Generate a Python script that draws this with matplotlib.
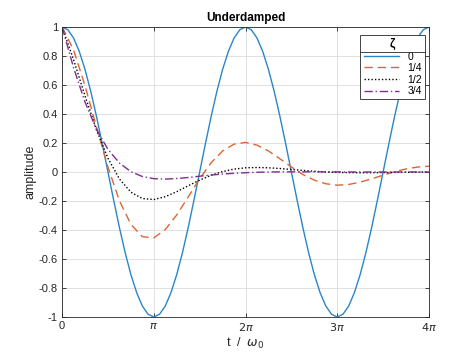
import numpy as np
import matplotlib
matplotlib.use("Agg")
import matplotlib.pyplot as plt
from matplotlib.lines import Line2D

plt.rcParams['font.family'] = ['Liberation Sans', 'DejaVu Sans']
plt.rcParams['mathtext.fontset'] = 'dejavusans'

# sample positions in units of pi
t_fine = np.arange(65) / 16.0      # for the undamped curve
t_coarse = np.arange(33) / 8.0     # for the damped curves

zeta_labels = ["0", "1/4", "1/2", "3/4"]

amp_0 = [1.0, 0.981, 0.924, 0.831, 0.707, 0.556, 0.383, 0.195, 0.0,
         -0.195, -0.383, -0.556, -0.707, -0.831, -0.924, -0.981, -1.0,
         -0.981, -0.924, -0.831, -0.707, -0.556, -0.383, -0.195, 0.0,
         0.195, 0.383, 0.556, 0.707, 0.831, 0.924, 0.981, 1.0,
         0.981, 0.924, 0.831, 0.707, 0.556, 0.383, 0.195, 0.0,
         -0.195, -0.383, -0.556, -0.707, -0.831, -0.924, -0.981, -1.0,
         -0.981, -0.924, -0.831, -0.707, -0.556, -0.383, -0.195, 0.0,
         0.195, 0.383, 0.556, 0.707, 0.831, 0.924, 0.981, 1.0]

amp_14 = [1.0, 0.842, 0.595, 0.310, 0.034, -0.198, -0.361, -0.446, -0.454,
          -0.397, -0.296, -0.172, -0.046, 0.064, 0.145, 0.192, 0.204,
          0.185, 0.145, 0.091, 0.035, -0.017, -0.056, -0.081, -0.091,
          -0.086, -0.070, -0.047, -0.022, 0.002, 0.021, 0.034, 0.040]

amp_12 = [1.0, 0.775, 0.525, 0.290, 0.095, -0.048, -0.139, -0.183, -0.190,
          -0.170, -0.136, -0.095, -0.056, -0.022, 0.003, 0.020, 0.029,
          0.031, 0.029, 0.024, 0.017, 0.011, 0.005, 0.000, -0.003,
          -0.004, -0.005, -0.005, -0.004, -0.003, -0.002, -0.001, 0.000]

amp_34 = [1.0, 0.720, 0.482, 0.294, 0.156, 0.062, 0.002, -0.031, -0.046,
          -0.049, -0.045, -0.038, -0.029, -0.021, -0.014, -0.009, -0.005,
          -0.002, 0.000, 0.001, 0.001, 0.001, 0.001, 0.001, 0.001,
          0.000, 0.000, 0.000, 0.000, 0.000, 0.000, 0.000, 0.000]

x_tick_labels = ["0", r"$\pi$", r"$2\pi$", r"$3\pi$", r"$4\pi$"]
y_ticks = [-1, -0.8, -0.6, -0.4, -0.2, 0, 0.2, 0.4, 0.6, 0.8, 1]

fig = plt.figure(figsize=(4.74, 3.55), dpi=100)
ax = fig.add_axes([0.131, 0.107, 0.774, 0.817])

pi = np.pi
ax.plot(t_fine * pi, amp_0, color="#2A86C8", lw=1.0, label=zeta_labels[0])
ax.plot(t_coarse * pi, amp_14, color="#DC6633", lw=1.0, ls=(0, (6, 3.5)), label=zeta_labels[1])
ax.plot(t_coarse * pi, amp_12, color="black", lw=1.0, ls=(0, (1, 1.5)), label=zeta_labels[2])
ax.plot(t_coarse * pi, amp_34, color="#7E2F8E", lw=1.0, ls=(0, (6, 2, 1, 2)), label=zeta_labels[3])

ax.set_xlim(0, 4 * pi)
ax.set_ylim(-1, 1)
ax.set_xticks([0, pi, 2 * pi, 3 * pi, 4 * pi])
ax.set_xticklabels(x_tick_labels)
ax.set_yticks(y_ticks)
ax.set_yticklabels(["-1", "-0.8", "-0.6", "-0.4", "-0.2", "0", "0.2", "0.4", "0.6", "0.8", "1"])

ax.grid(True, color="#dcdcdc", lw=0.6)
ax.set_axisbelow(True)
ax.tick_params(direction="in", length=3, width=0.6, top=True, right=True,
               labelsize=8, colors="#262626", pad=3)
for s in ax.spines.values():
    s.set_color("#262626")
    s.set_linewidth(0.6)

ax.set_title("Underdamped", fontsize=8.5, fontweight="bold", color="black", pad=4)
ax.set_xlabel(r"t  /  $\omega_0$", fontsize=9, color="#262626", labelpad=2)
ax.set_ylabel("amplitude", fontsize=9, color="#262626", labelpad=2)

leg = ax.legend(title="ζ", loc="upper right", bbox_to_anchor=(0.995, 0.98),
                fontsize=7.5, fancybox=False, framealpha=1, edgecolor="#262626",
                handlelength=3.4, handletextpad=0.8, borderpad=0.3,
                labelspacing=0.15, borderaxespad=0.2)
leg.get_frame().set_linewidth(0.6)
leg.get_title().set_fontsize(8.5)
leg.get_title().set_fontweight("bold")

# separator line under the legend title, as in the original
fig.canvas.draw()
lb = leg.get_window_extent()
tb = leg.get_title().get_window_extent()
inv = fig.transFigure.inverted()
(x0, y0) = inv.transform((lb.x0, tb.y0 - 2))
(x1, _) = inv.transform((lb.x1, tb.y0 - 2))
fig.add_artist(Line2D([x0, x1], [y0, y0], color="#262626", lw=0.6))

fig.savefig("out.png", dpi=100)
